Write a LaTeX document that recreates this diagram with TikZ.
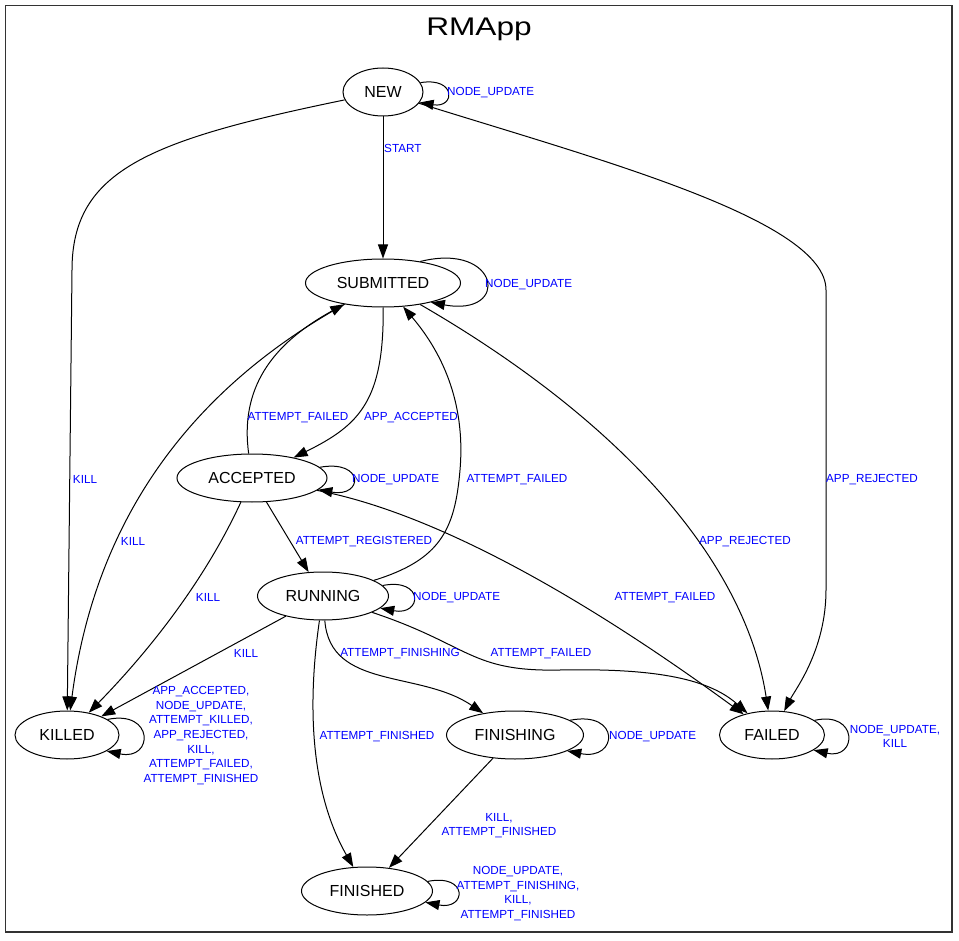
\documentclass[tikz,border=0pt]{standalone}
\usepackage{fontspec}
\setmainfont{Liberation Sans}
\newfontfamily\titlefont[FakeStretch=1.24]{Liberation Sans}
\usetikzlibrary{arrows.meta,shapes.geometric}

\begin{document}
\begin{tikzpicture}[x=1pt, y=-1pt, >={Triangle[length=14pt,width=10pt]},
  state/.style={draw, ellipse, line width=1pt, minimum height=48pt, inner sep=0pt,
    font=\fontsize{16}{19}\selectfont},
  lbl/.style={text=blue, align=center, inner sep=0pt, yshift=-1.5pt,
    font=\fontsize{11.7}{14.6}\selectfont},
  edge/.style={->, line width=1pt}]
  \useasboundingbox (0,0) rectangle (959,941);
  % Frame and title.
  \draw[line width=1.2pt, black!80] (5.5,5.5) rectangle (952,932);
  \node[anchor=base] (title) at (479,36) {\titlefont\fontsize{25.5}{29}\selectfont RMApp};
  % States.
  \node[state, minimum width=80pt] (new) at (383,92) {NEW};
  \node[state, minimum width=155pt] (sub) at (383,283) {SUBMITTED};
  \node[state, minimum width=150pt] (acc) at (252,478) {ACCEPTED};
  \node[state, minimum width=131pt] (run) at (323,596) {RUNNING};
  \node[state, minimum width=104pt] (killed) at (67,735) {KILLED};
  \node[state, minimum width=137pt] (finishing) at (515,735) {FINISHING};
  \node[state, minimum width=105pt] (failed) at (772,735) {FAILED};
  \node[state, minimum width=131pt] (finished) at (367,891) {FINISHED};
  % Transitions out of NEW.
  \draw[edge] (new) -- (sub);
  \node[lbl, anchor=west] (l-start) at (384,147) {START};
  \draw[edge] (new.14) .. controls +(36,-6) and +(36,6) .. (new.-16);
  \node[lbl, anchor=west] (l-new-upd) at (447,91) {NODE\_UPDATE};
  \draw[edge] (new) .. controls (150,140) and (72,170) .. (72,270) -- (killed);
  \node[lbl] (l-new-kill) at (85,478) {KILL};
  \draw[edge] (new) .. controls (600,160) and (826,220) .. (826,290) -- (826,590)
    .. controls (826,650) and (795,690) .. (failed);
  \node[lbl] (l-new-rej) at (872,478) {APP\_REJECTED};
  % Transitions out of SUBMITTED.
  \draw[edge] (sub.30) .. controls +(80,-20) and +(80,15) .. (sub.-22);
  \node[lbl, anchor=west] (l-sub-upd) at (485,283) {NODE\_UPDATE};
  \draw[edge] (sub) .. controls (384,400) and (360,425) .. (acc);
  \node[lbl] (l-sub-acc) at (411,416) {APP\_ACCEPTED};
  \draw[edge] (sub) .. controls (190,390) and (95,520) .. (killed);
  \node[lbl] (l-sub-kill) at (133,540) {KILL};
  \draw[edge] (sub) .. controls (620,420) and (745,560) .. (failed);
  \node[lbl] (l-sub-rej) at (745,540) {APP\_REJECTED};
  % Transitions out of ACCEPTED.
  \draw[edge] (acc.9) .. controls +(45,-8) and +(45,8) .. (acc.-10);
  \node[lbl, anchor=west] (l-acc-upd) at (352,478) {NODE\_UPDATE};
  \draw[edge] (acc) .. controls (240,390) and (270,345) .. (sub);
  \node[lbl] (l-acc-fail) at (298,416) {ATTEMPT\_FAILED};
  \draw[edge] (acc) -- (run);
  \node[lbl] (l-acc-reg) at (364,540) {ATTEMPT\_REGISTERED};
  \draw[edge] (acc) .. controls (205,580) and (150,650) .. (killed);
  \node[lbl] (l-acc-kill) at (208,596) {KILL};
  \draw[edge] (acc) .. controls (420,510) and (560,580) .. (failed);
  \node[lbl] (l-acc-fail2) at (665,596) {ATTEMPT\_FAILED};
  % Transitions out of RUNNING.
  \draw[edge] (run.10) .. controls +(42,-8) and +(42,8) .. (run.-12);
  \node[lbl, anchor=west] (l-run-upd) at (413,596) {NODE\_UPDATE};
  \draw[edge] (run) .. controls (440,560) and (455,530) .. (460,470)
    .. controls (466,400) and (440,350) .. (sub);
  \node[lbl] (l-run-fail) at (517,478) {ATTEMPT\_FAILED};
  \draw[edge] (run) -- (killed);
  \node[lbl] (l-run-kill) at (246,652) {KILL};
  \draw[edge] (run) .. controls (470,645) and (470,672) .. (560,670)
    .. controls (660,668) and (710,680) .. (failed);
  \node[lbl] (l-run-fail2) at (541,652) {ATTEMPT\_FAILED};
  \draw[edge] (run) .. controls (330,690) and (420,670) .. (finishing);
  \node[lbl] (l-run-fing) at (400,652) {ATTEMPT\_FINISHING};
  \draw[edge] (run) .. controls (305,720) and (315,800) .. (finished);
  \node[lbl] (l-run-fed) at (377,735) {ATTEMPT\_FINISHED};
  % Remaining self loops and FINISHING.
  \draw[edge] (killed.21) .. controls +(47,-10) and +(47,10) .. (killed.-22);
  \node[lbl] (l-killed) at (201,734) {APP\_ACCEPTED,\\NODE\_UPDATE,\\ATTEMPT\_KILLED,\\APP\_REJECTED,\\KILL,\\ATTEMPT\_FAILED,\\ATTEMPT\_FINISHED};
  \draw[edge] (finishing.15) .. controls +(51,-10) and +(51,10) .. (finishing.-17);
  \node[lbl, anchor=west] (l-fing-upd) at (609,735) {NODE\_UPDATE};
  \draw[edge] (finishing) -- (finished);
  \node[lbl] (l-fing-fed) at (499,824) {KILL,\\ATTEMPT\_FINISHED};
  \draw[edge] (failed.19) .. controls +(44,-10) and +(44,10) .. (failed.-20);
  \node[lbl] (l-failed) at (895,735) {NODE\_UPDATE,\\KILL};
  \draw[edge] (finished.9) .. controls +(41,-8) and +(41,8) .. (finished.-11);
  \node[lbl] (l-finished) at (518,892) {NODE\_UPDATE,\\ATTEMPT\_FINISHING,\\KILL,\\ATTEMPT\_FINISHED};
\end{tikzpicture}
\end{document}
